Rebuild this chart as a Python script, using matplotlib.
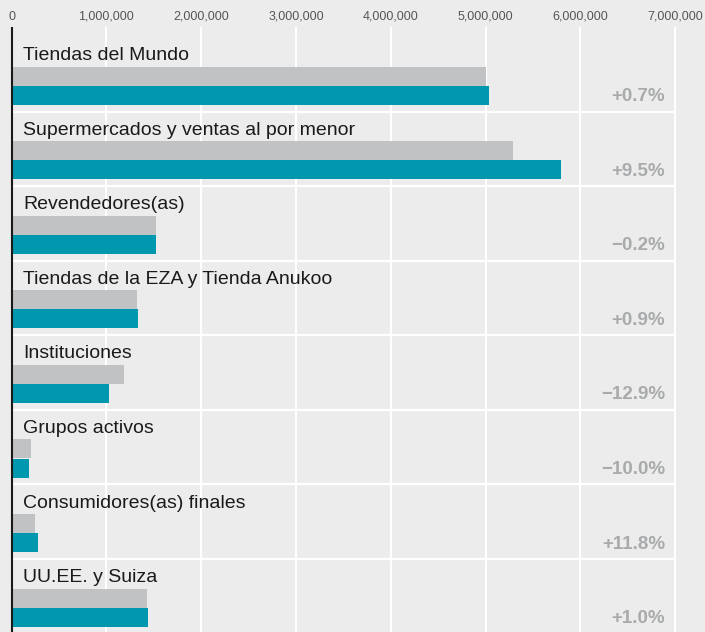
import matplotlib
matplotlib.use("Agg")
import matplotlib.pyplot as plt
import numpy as np

categories = [
    "Tiendas del Mundo",
    "Supermercados y ventas al por menor",
    "Revendedores(as)",
    "Tiendas de la EZA y Tienda Anukoo",
    "Instituciones",
    "Grupos activos",
    "Consumidores(as) finales",
    "UU.EE. y Suiza",
]
previous_year = [5004000, 5290000, 1525000, 1325000, 1185000, 205000, 247000, 1428000]
current_year = [5040000, 5795000, 1522000, 1337000, 1032000, 185000, 276000, 1442000]
changes = ["+0.7%", "+9.5%", "\u22120.2%", "+0.9%", "\u221212.9%", "\u221210.0%", "+11.8%", "+1.0%"]
ticks = [0, 1000000, 2000000, 3000000, 4000000, 5000000, 6000000, 7000000]

BG = "#ebeceb"
GREY = "#c1c2c4"
TEAL = "#0098ae"
PCT = "#a9aaac"

plt.rcParams["font.family"] = ["Liberation Sans", "DejaVu Sans"]

fig = plt.figure(figsize=(7.05, 6.32), dpi=100, facecolor=BG)
ax = fig.add_axes([0, 0, 1, (632 - 27) / 632])
ax.set_facecolor(BG)

n = len(categories)
pos = np.arange(n)
bar_h = 0.255
ax.barh(pos + 0.525, previous_year, height=bar_h, color=GREY, zorder=3)
ax.barh(pos + 0.782, current_year, height=bar_h, color=TEAL, zorder=3)

for i, (name, ch) in enumerate(zip(categories, changes)):
    ax.text(120000, i + 0.25, name, fontsize=14, color="#1a1a1a",
            va="center", ha="left", zorder=4)
    ax.text(6890000, i + 0.80, ch, fontsize=13.5, color=PCT, fontweight="bold",
            va="center", ha="right", zorder=4)

# separators between groups
for i in range(1, n):
    ax.plot([0, 7000000], [i, i], color="white", lw=1.6, zorder=2)

# vertical grid
for t in ticks[1:]:
    ax.axvline(t, color="white", lw=1.5, zorder=1)
ax.axvline(0, color="#1a1a1a", lw=1.5, zorder=5)

ax.set_xlim(-122000, 7313000)
ax.set_ylim(7.98, -0.134)
ax.xaxis.tick_top()
ax.set_xticks(ticks)
ax.set_xticklabels([f"{t:,}" for t in ticks], fontsize=9, color="#555555")
ax.tick_params(axis="x", length=0, pad=3)
ax.set_yticks([])
for s in ax.spines.values():
    s.set_visible(False)

fig.savefig("out.png", dpi=100, facecolor=BG)
